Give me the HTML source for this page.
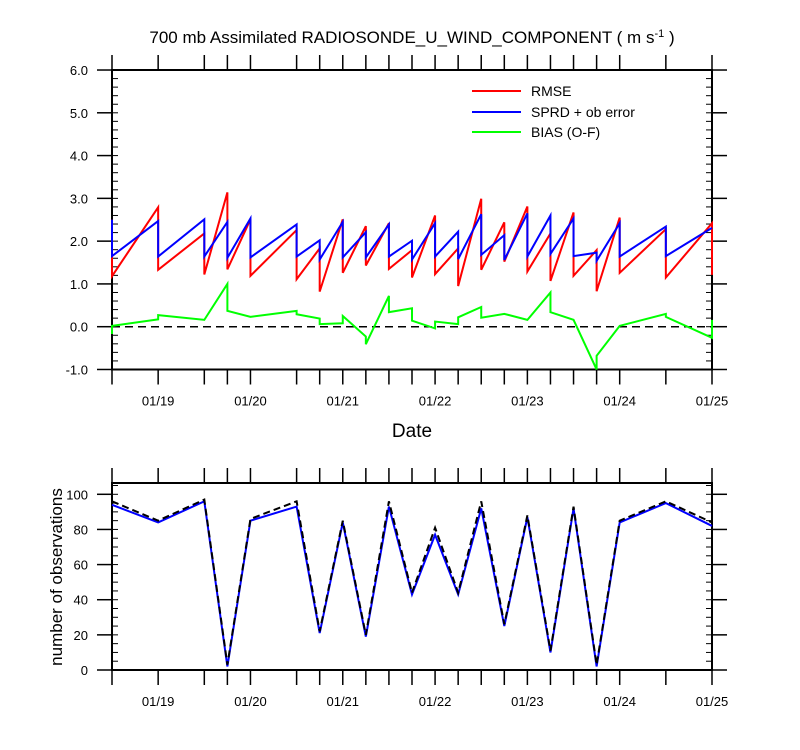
<!DOCTYPE html>
<html><head><meta charset="utf-8"><style>
body{margin:0;background:#fff;}
svg{display:block;font-family:"Liberation Sans",sans-serif;}
</style></head><body>
<svg id="c" width="800" height="750" xmlns="http://www.w3.org/2000/svg">
<text x="412" y="43" font-size="17" text-anchor="middle">700 mb Assimilated RADIOSONDE_U_WIND_COMPONENT ( m s<tspan dy="-6" font-size="11">-1</tspan><tspan dy="6"> )</tspan></text>
<text x="412" y="437" font-size="19" text-anchor="middle">Date</text>
<text transform="translate(62,577) rotate(-90)" font-size="17" text-anchor="middle">number of observations</text>
<g id="topPanel"></g>
<g id="botPanel"></g>
<g>
<line x1="472" y1="91" x2="521" y2="91" stroke="#f00" stroke-width="2"/><text x="531" y="96" font-size="14">RMSE</text>
<line x1="472" y1="112" x2="521" y2="112" stroke="#00f" stroke-width="2"/><text x="531" y="117" font-size="14">SPRD + ob error</text>
<line x1="472" y1="132" x2="521" y2="132" stroke="#0f0" stroke-width="2"/><text x="531" y="137" font-size="14">BIAS (O-F)</text>
</g>
</svg>
<script>
// hours since 01/18 12Z
const times=[0,12,24,30,36,48,54,60,66,72,78,84,90,96,102,108,114,120,126,132,144,156];
const rmseArr=[2.5,2.79,2.18,3.14,2.51,2.26,1.83,2.51,2.35,2.42,1.79,2.60,1.83,2.99,2.44,2.81,2.18,2.67,1.79,2.55,2.28,2.42];
const rmseDep=[1.18,1.33,1.22,1.34,1.19,1.11,0.82,1.26,1.43,1.35,1.15,1.23,0.95,1.33,1.52,1.29,1.07,1.19,0.83,1.26,1.15,1.21];
const sprdArr=[2.5,2.47,2.51,2.45,2.53,2.39,2.02,2.45,2.21,2.39,2.01,2.42,2.22,2.63,2.14,2.65,2.60,2.53,1.73,2.42,2.34,2.31];
const sprdDep=[1.65,1.64,1.64,1.61,1.62,1.64,1.57,1.62,1.62,1.64,1.57,1.64,1.58,1.68,1.56,1.64,1.70,1.65,1.54,1.64,1.65,2.31];
const biasArr=[-0.17,0.17,0.16,1.0,0.23,0.37,0.19,0.08,-0.23,0.72,0.43,-0.04,0.06,0.46,0.30,0.16,0.80,0.16,-1.0,0.02,0.30,-0.26];
const biasDep=[0.02,0.27,0.16,0.37,0.23,0.29,0.06,0.25,-0.41,0.34,0.14,0.12,0.22,0.21,0.30,0.16,0.34,0.16,-0.68,0.02,0.23,0.16];
const nobsAssim=[94,84,96,2,85,93,21,84,19,93,43,77,43,92,25,87,10,92,2,84,95,82];
const nobsTotal=[96,85,97,3,86,96,22,85,20,96,44,81,44,96,26,88,11,93,3,85,96,84];
const dateLabels=["01/19","01/20","01/21","01/22","01/23","01/24","01/25"];
const dateHours=[12,36,60,84,108,132,156];
const topTicks=[6,5,4,3,2,1,0,-1];
const botTicks=[0,20,40,60,80,100];

const NS="http://www.w3.org/2000/svg";
const X0=112,X1=712;
const xs=h=>X0+h*(X1-X0)/156;
const yT=v=>326.7-v*42.78;
const yB=v=>670-v*1.757;
function mk(tag,attrs,parent){const e=document.createElementNS(NS,tag);for(const k in attrs)e.setAttribute(k,attrs[k]);parent.appendChild(e);return e;}
const topG=document.getElementById('topPanel'),botG=document.getElementById('botPanel');

function axes(g,yTop,yBot,ticks,yf,fmt,minorStep,lo,hi,nm){
  times.forEach(t=>{
    const x=xs(t);
    let l=mk('line',{x1:x,y1:yTop-15,x2:x,y2:yTop,stroke:'#000','stroke-width':1.5},g);
    
    
    l=mk('line',{x1:x,y1:yBot,x2:x,y2:yBot+15,stroke:'#000','stroke-width':1.5},g);
    
    
  });
  dateLabels.forEach((d,i)=>{
    const t=mk('text',{x:xs(dateHours[i]),y:yBot+36,'font-size':13,'text-anchor':'middle'},g);t.textContent=d;
    
    
  });
  for(let v=lo;v<=hi+1e-6;v+=minorStep){
    const y=yf(v);
    mk('line',{x1:X0,y1:y,x2:X0+6,y2:y,stroke:'#000','stroke-width':1},g);
    mk('line',{x1:X1-6,y1:y,x2:X1,y2:y,stroke:'#000','stroke-width':1},g);
  }
  ticks.forEach(v=>{
    const y=yf(v);
    mk('line',{x1:X0-15,y1:y,x2:X0,y2:y,stroke:'#000','stroke-width':1.5},g);
    mk('line',{x1:X1,y1:y,x2:X1+15,y2:y,stroke:'#000','stroke-width':1.5},g);
    const t=mk('text',{x:X0-24,y:y+5,'font-size':13,'text-anchor':'end'},g);t.textContent=fmt(v);
    
    
  });
  const r=mk('rect',{x:X0,y:yTop,width:X1-X0,height:yBot-yTop,fill:'none',stroke:'#000','stroke-width':2},g);
  
  
}
axes(topG,70,369.5,topTicks,yT,v=>v.toFixed(1),0.2,-1,6,'top');
axes(botG,483,670,botTicks,yB,v=>String(v),5,0,105,'bottom');

let z=mk('line',{x1:X0,y1:yT(0),x2:X1,y2:yT(0),stroke:'#000','stroke-width':1.5,'stroke-dasharray':'8,5'},topG);



function saw(arr,dep,color,name){
  let d='';
  times.forEach((t,i)=>{
    const x=xs(t);
    d+=(i===0?'M':'L')+x+','+yT(arr[i])+'L'+x+','+yT(dep[i]);
  });
  const p=mk('path',{d:d,fill:'none',stroke:color,'stroke-width':2},topG);
  
  
}
saw(rmseArr,rmseDep,'#f00','rmse-line');
saw(sprdArr,sprdDep,'#00f','sprd-line');
saw(biasArr,biasDep,'#0f0','bias-line');

function line(vals,color,dash,name){
  const d=vals.map((v,i)=>(i?'L':'M')+xs(times[i])+','+yB(v)).join('');
  const p=mk('path',{d:d,fill:'none',stroke:color,'stroke-width':2},botG);
  if(dash)p.setAttribute('stroke-dasharray',dash);
  
  
}
line(nobsAssim,'#00f',null,'nobs-assimilated-line');
line(nobsTotal,'#000','7,4','nobs-total-line');
</script>
</body></html>
